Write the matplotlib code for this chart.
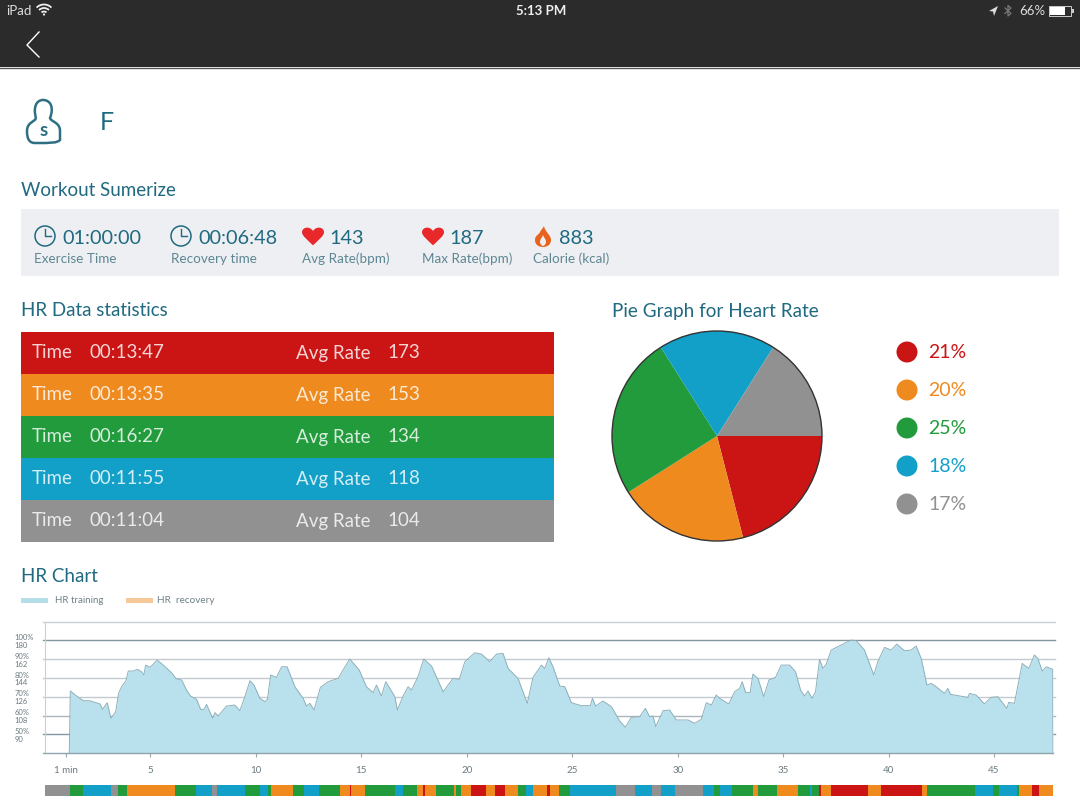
import matplotlib
matplotlib.use("Agg")
import matplotlib.pyplot as plt
from matplotlib.patches import Arc, Circle, PathPatch, Polygon, Rectangle
from matplotlib.path import Path

plt.rcParams["font.family"] = ["Lato", "DejaVu Sans"]

W, H = 1080, 810

# colours
TEAL = "#1f6a80"
LABEL = "#5d8793"
RED = "#cb1414"
ORANGE = "#ee8a1e"
GREEN = "#219b3c"
BLUE = "#12a0c8"
GRAY = "#919191"
zone_colors = [RED, ORANGE, GREEN, BLUE, GRAY]

# summary row
summary_values = ["01:00:00", "00:06:48", "143", "187", "883"]
summary_labels = ["Exercise Time", "Recovery time", "Avg Rate(bpm)", "Max Rate(bpm)", "Calorie (kcal)"]

# table
zone_times = ["00:13:47", "00:13:35", "00:16:27", "00:11:55", "00:11:04"]
zone_rates = [173, 153, 134, 118, 104]

# pie: labels as printed, slices as drawn (the printed numbers add up to 101)
zone_percents = [21, 20, 25, 18, 17]
pie_shares = [21, 20, 25, 18, 16]

# heart rate curve, minutes / bpm
hr_minutes = [1.15, 1.2, 1.5, 1.82, 2.13, 2.61, 2.73, 2.95, 3.13, 3.35, 3.49, 3.63, 3.84, 3.95, 4.19, 4.38,
              4.58, 4.69, 4.77, 4.98, 5.32, 5.61, 6.0, 6.21, 6.48, 6.71, 6.9, 7.19, 7.38, 7.54, 7.66, 7.95,
              8.06, 8.21, 8.61, 9.0, 9.24, 9.48, 9.72, 9.91, 10.19, 10.43, 10.55, 10.7, 10.98, 11.22, 11.48,
              11.85, 12.24, 12.4, 12.56, 12.76, 13.06, 13.43, 13.9, 14.14, 14.45, 14.9,
              15.24, 15.56, 15.72, 15.95, 16.16, 16.59, 16.71, 16.98, 17.22, 17.38, 17.69, 17.96, 18.33,
              18.88, 19.35, 19.64, 19.91, 20.38, 20.7, 21.09, 21.41, 21.72, 21.96, 22.43, 22.87, 23.14,
              23.54, 23.7, 23.89, 24.09, 24.41, 24.65, 24.96, 25.43, 25.86, 25.96, 26.11, 26.46, 26.86,
              27.25, 27.52, 27.8, 28.2, 28.47, 28.67, 28.83, 28.96, 29.31, 29.62, 29.94, 30.49, 30.81,
              31.12, 31.36, 31.6, 31.83, 31.99, 32.43, 32.7, 32.94, 33.06, 33.22, 33.44, 33.57, 33.81,
              34.08, 34.33, 34.64, 34.91, 35.31, 35.59, 35.83, 36.02, 36.18, 36.37, 36.54, 36.73, 36.89,
              37.05, 37.28, 37.84, 38.23, 38.47, 38.86, 39.3, 39.49, 39.81, 40.13, 40.39, 40.76, 41.07,
              41.31, 41.55, 41.82, 42.02, 42.26, 42.65, 42.81, 42.94, 43.76, 43.84, 44.15, 44.55, 44.86,
              45.18, 45.61, 45.7, 45.97, 46.34, 46.65, 46.92, 47.08, 47.29, 47.48, 47.79, 47.8]
hr_bpm = [72, 131.6, 126.8, 122.3, 122.3, 119.2, 114, 120.4, 105.5, 111.8, 129.3, 135.7, 141.5, 150.7, 150.7, 152.3,
          150, 146.9, 156.4, 154.2, 161.2, 156.4, 149.1, 143.4, 142.1, 132.5, 126.8, 123.6, 114, 114, 118.8, 105.5,
          110.9, 107.7, 117.2, 118.2, 112.8, 126.2, 141.5, 137.3, 124.6, 121.4, 123.6, 146.9, 144.6, 154.8, 154.8,
          135.7, 124.6, 117.2, 119.8, 113.4, 135.1, 140.5, 143.7, 151.7, 162.2, 151.7,
          135.7, 130, 137.3, 126.8, 140.5, 126.2, 113.4, 126.8, 135.7, 132.5, 145.3, 162.2, 155.5,
          130.9, 143.7, 142.7, 159.6, 168.2, 166.9, 159.6, 166.9, 167.6, 153.2, 143.7, 119.8, 144.6,
          156.4, 153.2, 163.4, 154.8, 136.4, 135.7, 120.4, 117.6, 117.6, 124.6, 117.2, 122, 116.6,
          102.9, 96.9, 106.4, 107, 115, 107, 107.7, 97.5, 112.8, 113.4, 103.9, 103.9, 100.7,
          104.5, 120.4, 118.2, 127.8, 124.6, 119.2, 130.9, 134.1, 140.5, 130.3, 130.3, 147.8, 143.7,
          126.2, 142.1, 144.6, 156.4, 156.4, 150, 132.5, 126.8, 131.6, 124.6, 130.9, 161.8, 153.2,
          157.4, 170.8, 176.5, 180.3, 179.7, 170.8, 146.9, 159.6, 173.3, 170.8, 176.5, 170.1, 170.8,
          174.6, 162.8, 137.3, 138.9, 135.7, 129.3, 134.1, 128.4, 125.5, 129.3, 127.8, 119.2, 125.5,
          126.2, 115, 120.7, 119.8, 158, 153.2, 166, 162.8, 150.7, 154.8, 152.3, 72]

# hr axis
grid_bpm = [198, 180, 162, 144, 126, 108, 90]
grid_colors = ["#c9d0d4", "#8496a0", "#c3cbd0", "#c3cbd0", "#c3cbd0", "#aab6bc", "#8496a0"]
y_ticks = [180, 162, 144, 126, 108, 90]
y_labels = ["100%\n180", "90%\n162", "80%\n144", "70%\n126", "60%\n108", "50%\n90"]
x_ticks = [1, 5, 10, 15, 20, 25, 30, 35, 40, 45]
x_labels = ["1 min", "5", "10", "15", "20", "25", "30", "35", "40", "45"]

# zone strip below the curve: end minute of each block, and the zone it belongs to (0 red .. 4 gray)
strip_ends = [1.2, 1.79, 3.13, 3.32, 3.48, 3.87, 6.16, 7.14, 7.93, 8.17, 9.48, 10.19, 10.58, 10.71, 11.77, 12.27,
              13.0, 13.98, 14.45, 14.5, 15.17, 16.62, 16.98, 17.66, 17.93, 18.04, 18.56, 19.4, 19.48, 19.72,
              20.19, 20.9, 21.33, 21.82, 22.45, 22.8, 23.14, 23.81, 23.97, 24.36, 24.88, 27.1, 28.0, 28.79,
              28.91, 29.19, 29.86, 31.2, 31.71, 31.99, 32.59, 33.57, 33.81, 34.72, 35.71, 36.29, 36.38, 36.7,
              36.8, 37.25, 39.05, 39.54, 39.65, 41.6, 41.82, 44.1, 44.94, 45.26, 46.1, 46.21, 46.79, 47.13, 47.8]
strip_zones = [4, 2, 3, 4, 4, 2, 1, 2, 3, 4, 3, 2, 3, 2, 1, 2,
               3, 2, 1, 0, 1, 2, 3, 2, 1, 0, 1, 2, 1, 2,
               1, 0, 1, 0, 1, 2, 3, 1, 0, 1, 2, 3, 4, 3,
               4, 4, 3, 4, 3, 2, 3, 2, 1, 2, 1, 2, 3, 2,
               0, 1, 0, 1, 1, 0, 1, 2, 3, 2, 3, 2, 1, 0, 1]


def px_axes(fig, x0, y0, x1, y1):
    # axes from a pixel box, y measured from the top of the image
    return fig.add_axes([x0 / W, 1 - y1 / H, (x1 - x0) / W, (y1 - y0) / H])


def heart(ax, cx, cy, w, color):
    s = w / 2
    verts = [(cx, cy + 0.85 * s), (cx - 0.5 * s, cy + 0.35 * s), (cx - s, cy), (cx - s, cy - 0.35 * s),
             (cx - s, cy - 0.8 * s), (cx - 0.3 * s, cy - 0.95 * s), (cx, cy - 0.45 * s),
             (cx + 0.3 * s, cy - 0.95 * s), (cx + s, cy - 0.8 * s), (cx + s, cy - 0.35 * s),
             (cx + s, cy), (cx + 0.5 * s, cy + 0.35 * s), (cx, cy + 0.85 * s)]
    codes = [Path.MOVETO] + [Path.CURVE4] * 12
    ax.add_patch(PathPatch(Path(verts, codes), fc=color, ec="none"))


def clock(ax, cx, cy, r=10):
    ax.add_patch(Circle((cx, cy), r, fc="none", ec=TEAL, lw=1.1))
    ax.plot([cx, cx, cx + 6], [cy - 7, cy, cy], color=TEAL, lw=1.0)


def flame(ax, cx, cy):
    outer = [(cx + 1, cy - 11), (cx + 2, cy - 5), (cx + 8, cy - 2), (cx + 8, cy + 3), (cx + 8, cy + 8),
             (cx + 4, cy + 10), (cx, cy + 10), (cx - 4, cy + 10), (cx - 8, cy + 8), (cx - 8, cy + 3),
             (cx - 8, cy - 2), (cx - 4, cy - 2), (cx - 3, cy - 5), (cx - 2, cy - 7), (cx, cy - 9), (cx + 1, cy - 11)]
    inner = [(cx, cy - 2), (cx + 1, cy + 1), (cx + 3, cy + 2), (cx + 3, cy + 5), (cx + 3, cy + 7),
             (cx + 1, cy + 9), (cx, cy + 9), (cx - 1, cy + 9), (cx - 3, cy + 7), (cx - 3, cy + 5),
             (cx - 3, cy + 2), (cx - 1, cy + 1), (cx, cy - 2)]
    ax.add_patch(PathPatch(Path(outer, [Path.MOVETO] + [Path.CURVE4] * 15), fc="#e8641e", ec="none"))
    ax.add_patch(PathPatch(Path(inner, [Path.MOVETO] + [Path.CURVE4] * 12), fc="#eeeff2", ec="none"))


fig = plt.figure(figsize=(W / 100, H / 100), dpi=100, facecolor="white")

# page layer in pixel coordinates
bg = fig.add_axes([0, 0, 1, 1])
bg.set_xlim(0, W)
bg.set_ylim(H, 0)
bg.axis("off")

# top bar
bg.add_patch(Rectangle((0, 0), W, 67, fc="#2b2b2b", ec="none"))
bg.plot([0, W], [67.5, 67.5], color="#555555", lw=1)
bg.text(6, 11, "iPad", color="#dddddd", fontsize=9.5, va="center")
for r, lw in [(3.5, 1.3), (7, 1.3), (10.5, 1.3)]:
    bg.add_patch(Arc((44, 15), 2 * r, 2 * r, theta1=225, theta2=315, ec="#eeeeee", lw=lw))
bg.add_patch(Circle((44, 14.5), 1.1, fc="#eeeeee", ec="none"))
bg.text(541, 11, "5:13 PM", color="#eeeeee", fontsize=9.5, ha="center", va="center", fontweight="bold")
bg.plot([39, 27, 39], [32, 45, 57], color="white", lw=1.0)
bg.add_patch(Polygon([(998, 6), (989, 11), (993, 11.5), (994, 16)], fc="#dddddd", ec="none"))
bg.plot([1005, 1011, 1008, 1008, 1011, 1005], [8, 13.5, 16, 5.5, 8, 13.5], color="#777777", lw=0.9)
bg.text(1019, 11, "66%", color="#dddddd", fontsize=9.5, va="center")
bg.add_patch(Rectangle((1049, 6), 22, 9.5, fc="#2b2b2b", ec="#cccccc", lw=0.7))
bg.add_patch(Rectangle((1050, 7), 15, 7.5, fc="white", ec="none"))
bg.add_patch(Rectangle((1072, 9), 1.5, 4, fc="#cccccc", ec="none"))

# person icon and name
body = [(36, 118), (33, 108), (36, 100), (43, 100), (51, 100), (54, 108), (50, 118),
        (51, 122), (60, 122), (60, 131), (60, 140), (57, 143), (52, 143), (35, 143),
        (30, 143), (27, 140), (27, 131), (27, 122), (35, 122), (36, 118)]
body_codes = [Path.MOVETO] + [Path.CURVE4] * 9 + [Path.LINETO] + [Path.CURVE4] * 9
bg.add_patch(PathPatch(Path(body, body_codes), fc="white", ec="#2f6f82", lw=1.8))
bg.text(43.5, 130, "s", color="#2f6f82", fontsize=13.5, fontweight="bold", ha="center", va="center")
bg.text(100, 122, "F", color=TEAL, fontsize=18, va="center")

# section titles
bg.text(21, 191, "Workout Sumerize", color=TEAL, fontsize=13.5, va="center")
bg.text(21, 311, "HR Data statistics", color=TEAL, fontsize=13.5, va="center")
bg.text(612, 311, "Pie Graph for Heart Rate", color=TEAL, fontsize=13.6, va="center")
bg.text(21, 576, "HR Chart", color=TEAL, fontsize=13.5, va="center")

# summary panel
bg.add_patch(Rectangle((21, 209), 1038, 67, fc="#eeeff2", ec="none"))
clock(bg, 45, 236)
clock(bg, 181, 236)
heart(bg, 313, 236, 22, "#e8282b")
heart(bg, 433, 236, 22, "#e8282b")
flame(bg, 543, 237)
value_x = [62, 198, 329, 449, 559]
label_x = [34, 171, 302, 422, 533]
for vx, lx, value, label in zip(value_x, label_x, summary_values, summary_labels):
    bg.text(vx, 243.5, value, color=TEAL, fontsize=14.3, va="baseline")
    bg.text(lx, 263, label, color=LABEL, fontsize=9.7, va="baseline")

# table rows
for i, (t, rate) in enumerate(zip(zone_times, zone_rates)):
    top = 332 + 42 * i
    bg.add_patch(Rectangle((21, top), 533, 42, fc=zone_colors[i], ec="none"))
    for x, s in [(32, "Time"), (90, t), (296, "Avg Rate"), (387, str(rate))]:
        bg.text(x, top + 26.5, s, color="white", alpha=0.82, fontsize=13.5, va="baseline")

# pie legend
for i, pct in enumerate(zone_percents):
    y = 352 + 38 * i
    bg.add_patch(Circle((907, y), 10.5, fc=zone_colors[i], ec="none"))
    bg.text(928, y + 1, f"{pct}%", color=zone_colors[i], fontsize=14, va="center")

# hr legend
bg.add_patch(Rectangle((21, 598), 27, 4.5, fc="#b5dfe8", ec="none"))
bg.text(55, 600.5, "HR training", color="#6f8288", fontsize=7, va="center")
bg.add_patch(Rectangle((126, 598), 27, 4.5, fc="#f5c99a", ec="none"))
bg.text(157, 600.5, "HR  recovery", color="#6f8288", fontsize=7.2, va="center")

# pie
pie_ax = px_axes(fig, 612, 331, 822, 541)
pie_ax.pie(pie_shares, colors=zone_colors, startangle=0, counterclock=False, radius=1)
pie_ax.add_patch(Circle((0, 0), 1, fc="none", ec="#333333", lw=1, clip_on=False))
pie_ax.set_xlim(-1, 1)
pie_ax.set_ylim(-1, 1)

# hr curve
ax = px_axes(fig, 45, 621.6, 1053, 753.3)
ax.set_xlim(0, 47.8)
ax.set_ylim(72, 198)
ax.patch.set_alpha(0)
for b, c in zip(grid_bpm, grid_colors):
    ax.plot([-0.1, 47.9], [b, b], color=c, lw=1, clip_on=False, zorder=1)
ax.fill_between(hr_minutes, 72, hr_bpm, color="#b9e1ed", lw=0, zorder=2)
ax.plot(hr_minutes, hr_bpm, color="#8db0ba", lw=0.7, zorder=3)
ax.plot([-0.1, 47.8], [72, 72], color="#8fa3ac", lw=1, clip_on=False, zorder=4)
for side in ["top", "right", "bottom"]:
    ax.spines[side].set_visible(False)
ax.spines["left"].set_color("#c9d0d4")
ax.set_xticks(x_ticks, x_labels)
ax.set_yticks(y_ticks, y_labels)
ax.tick_params(axis="x", length=3, color="#9aa8ae", labelcolor="#6a7a80", labelsize=7, pad=6)
ax.tick_params(axis="y", length=0, labelcolor="#6a7a80", labelsize=5.5, pad=22)
for label in ax.get_yticklabels():
    label.set_ha("left")
    label.set_linespacing(1.15)

# zone strip
strip = px_axes(fig, 45, 785, 1053, 796)
strip.set_xlim(0, 47.8)
strip.set_ylim(0, 1)
strip.axis("off")
strip_starts = [0] + strip_ends[:-1]
strip.barh(0.5, [e - s for s, e in zip(strip_starts, strip_ends)], left=strip_starts, height=1,
           color=[zone_colors[z] for z in strip_zones], linewidth=0)

fig.savefig("out.png", dpi=100)
